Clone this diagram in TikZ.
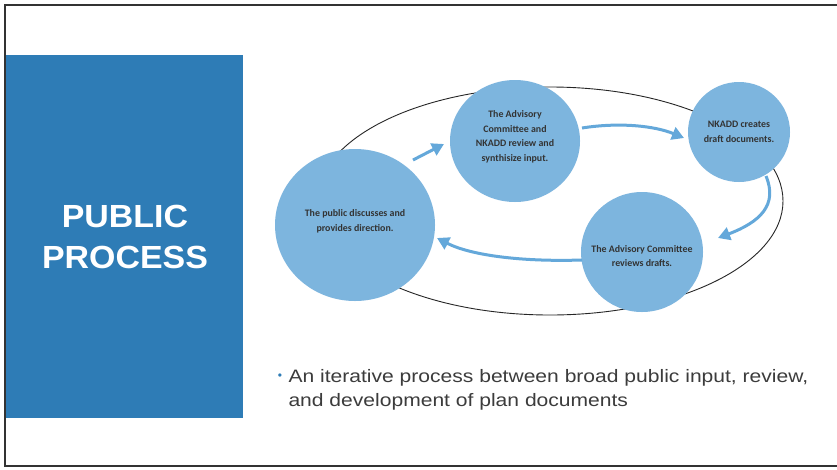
\documentclass[tikz,border=0pt]{standalone}
\usepackage{fontspec}
\setmainfont{Liberation Sans}
\newfontfamily\circfont{Carlito}
\newfontfamily\titlefont[FakeStretch=1.06]{Liberation Sans}
\newfontfamily\bodyfont[FakeStretch=1.17]{Liberation Sans}
\usetikzlibrary{arrows.meta,shapes.geometric}
\definecolor{slideblue}{RGB}{46,124,182}
\definecolor{circblue}{RGB}{125,181,222}
\definecolor{arrblue}{RGB}{100,168,218}
\definecolor{bodygrey}{RGB}{60,60,60}
\tikzset{
  stage/.style={ellipse, fill=circblue, inner sep=0pt},
  stagetext/.style={inner sep=0pt, align=center, font=\circfont\bfseries\fontsize{9.9}{14.6}\selectfont, text=black!80},
  flow/.style={draw=arrblue, line width=3pt, -{Triangle[length=12pt,width=13pt]}},
}
\begin{document}
\begin{tikzpicture}[x=1pt,y=-1pt]
\useasboundingbox (0,0) rectangle (837,469);
\fill[white] (0,0) rectangle (837,469);
% slide frame
\draw[black!80, line width=1.6pt] (837,5) -- (5,5) -- (5,466) -- (837,466);
% title panel
\fill[slideblue] (6,55) rectangle (243,418);
\node[text=white, font=\titlefont\bfseries\fontsize{32}{41}\selectfont, align=center] (title) at (125,237) {PUBLIC\\PROCESS};
% cycle ellipse
\draw[black!85, line width=0.9pt] (550,201) ellipse [x radius=233, y radius=114];
% stages
\node[stage, minimum width=160pt, minimum height=152pt] (pub) at (355,225) {};
\node[stagetext] (pubt) at ([yshift=4pt]pub.center) {The public discusses and\\provides direction.};
\node[stage, minimum width=130pt, minimum height=122pt] (rev) at (515,141) {};
\node[stagetext] (revt) at ([yshift=4pt]rev.center) {The Advisory\\Committee and\\NKADD review and\\synthisize input.};
\node[stage, minimum width=102pt, minimum height=100pt] (nk) at (739,132) {};
\node[stagetext] (nkt) at (nk) {NKADD creates\\draft documents.};
\node[stage, minimum width=122pt, minimum height=120pt] (ac) at (642,252) {};
\node[stagetext] (act) at ([yshift=-4pt]ac.center) {The Advisory Committee\\reviews drafts.};
% arrows
\coordinate (a1s) at (413,160);
\coordinate (a1e) at (444,144);
\draw[flow] (a1s) -- (a1e);
\coordinate (a2s) at (582,128);
\coordinate (a2e) at (684,138);
\draw[flow] (a2s) .. controls (620,122) and (655,126) .. (a2e);
\coordinate (a3s) at (766,176);
\coordinate (a3e) at (718,238);
\draw[flow] (a3s) .. controls (778,205) and (760,222) .. (a3e);
\coordinate (a4s) at (582,260);
\coordinate (a4e) at (437,238);
\draw[flow] (a4s) .. controls (520,262) and (470,255) .. (a4e);
% bullet text
\node[anchor=west, text=bodygrey, font=\bodyfont\fontsize{18}{24.5}\selectfont, align=left] (body) at (285,390) {An iterative process between broad public input, review,\\and development of plan documents};
\node[text=slideblue, font=\fontsize{12}{12}\selectfont] (dot) at (280,377) {\textbullet};
\end{tikzpicture}
\end{document}
